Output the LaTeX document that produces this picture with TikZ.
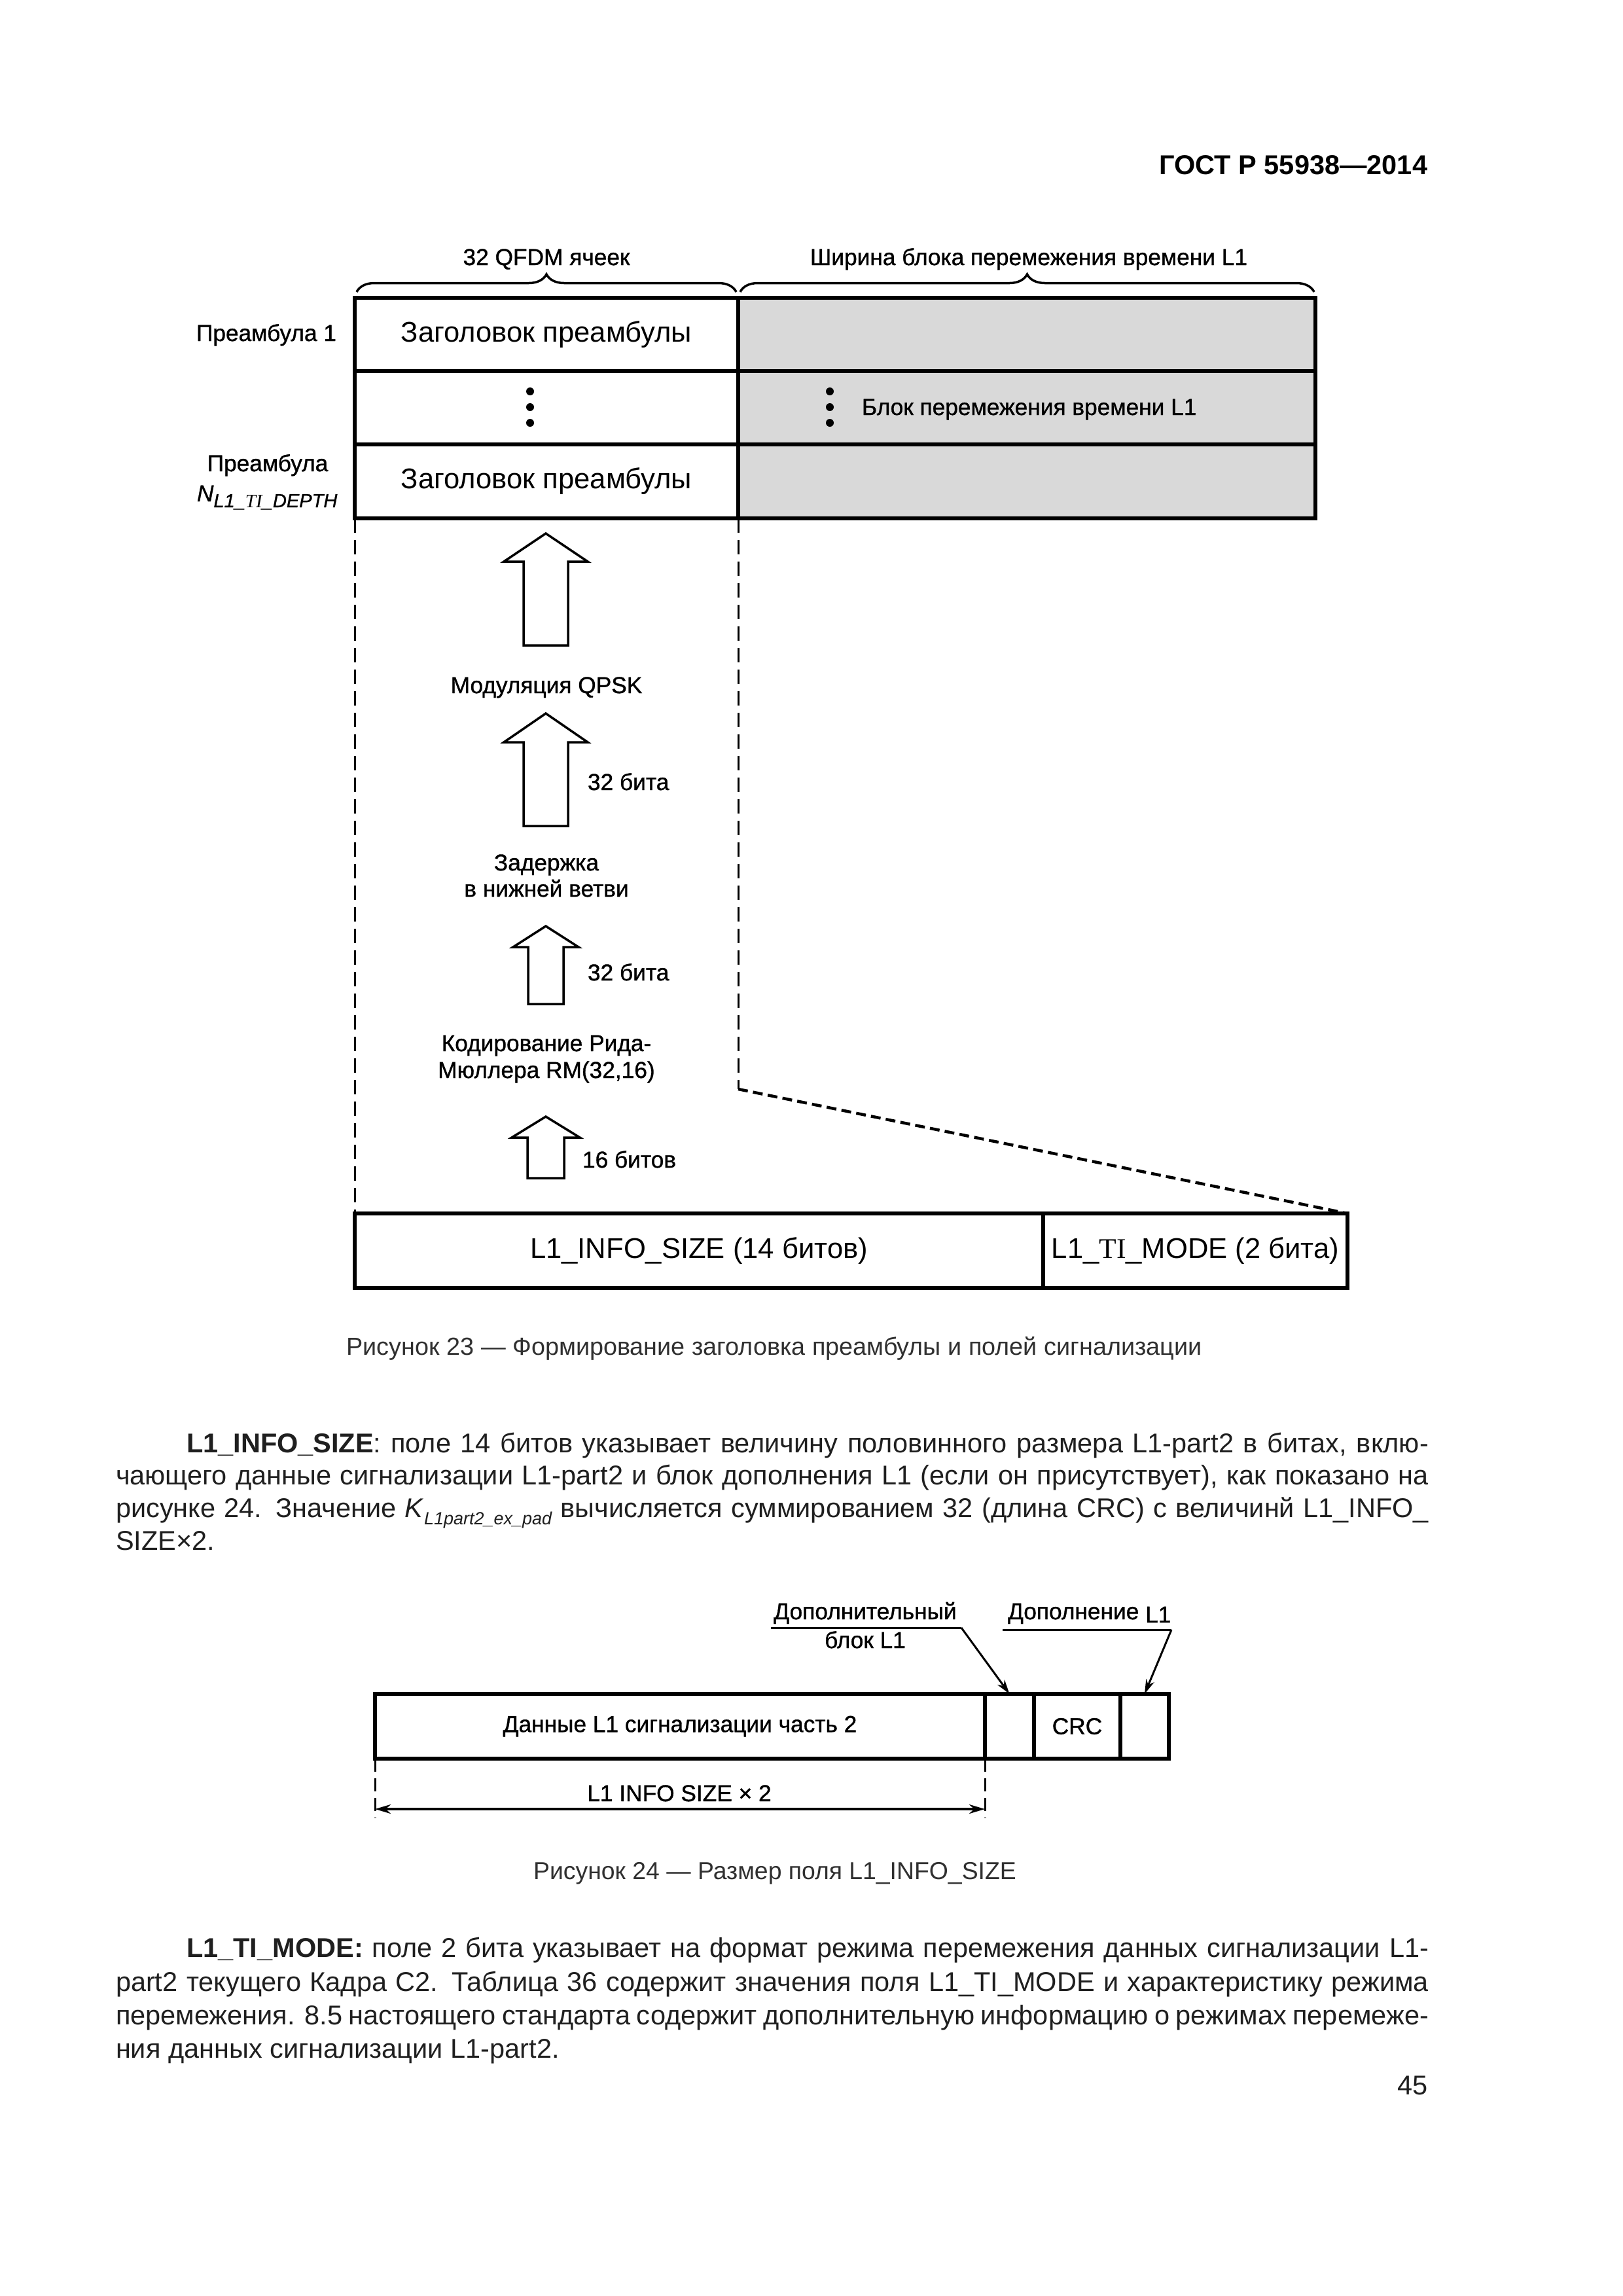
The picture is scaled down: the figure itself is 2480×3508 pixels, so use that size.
\documentclass[tikz,border=0pt]{standalone}
\usepackage{fontspec}
\setmainfont{Liberation Sans}
\newfontfamily\serif{Liberation Serif}
\newfontfamily\semib{Liberation Sans}[FakeBold=1]
\usetikzlibrary{decorations.pathreplacing,arrows.meta}
\newdimen\px \px=0.24093pt
\definecolor{cellgray}{HTML}{D9D9D9}
\definecolor{capgray}{HTML}{303030}
\newcommand\blkarrow[6]{\draw[blk] (#1,#2) -- (#1+#5,#3) -- (#1+#6,#3) -- (#1+#6,#4) -- (#1-#6,#4) -- (#1-#6,#3) -- (#1-#5,#3) -- cycle;}
\begin{document}
\begin{tikzpicture}[x=\px,y=-\px,
  lab/.style={font=\semib\fontsize{8.5}{10}\selectfont, inner sep=0, outer sep=0},
  big/.style={font=\fontsize{10.5}{12}\selectfont},
  cell/.style={draw, line width=5.5\px, inner sep=0, outer sep=0, anchor=north west, minimum height=#1\px},
  gcell/.style={cell=#1, fill=cellgray},
  body/.style={font=\fontsize{10}{12}\selectfont, text=black!88, inner sep=0, outer sep=0},
  capt/.style={font=\fontsize{9}{11}\selectfont, text=capgray, inner sep=0, outer sep=0},
  dashln/.style={line width=3\px, dash pattern=on 22\px off 11\px},
  diagdash/.style={line width=4.5\px, dash pattern=on 15\px off 8\px},
  brc/.style={line width=3.5\px, decorate, decoration={brace, amplitude=27\px}},
  blk/.style={line width=3.5\px, fill=white, line join=miter},
  call/.style={line width=3\px},
  calltip/.style={-{Stealth[length=5.3pt,width=3.2pt]}},
  dimdash/.style={line width=3\px, dash pattern=on 20\px off 10\px},
  dimarr/.style={line width=4\px, {Stealth[length=5.8pt,width=3.4pt]}-{Stealth[length=5.8pt,width=3.4pt]}}
]
\fill[white] (0,0) rectangle (2480,3508);
\useasboundingbox (0,0) rectangle (2480,3508);

% header
\node[anchor=base east, font=\bfseries\fontsize{10}{12}\selectfont, inner sep=0] (hdr) at (2182,266) {ГОСТ Р 55938—2014};

% ===== Figure 23 =====
\node[lab, anchor=base] (bl1) at (835,405) {32 QFDM ячеек};
\node[lab, anchor=base] (bl2) at (1572,405) {Ширина блока перемежения времени L1};
\coordinate (br1a) at (545,446); \coordinate (br1b) at (1125,446);
\coordinate (br2a) at (1131,446); \coordinate (br2b) at (2008,446);
\draw[brc] (br1a) -- (br1b);
\draw[brc] (br2a) -- (br2b);

\node[gcell=112, minimum width=882\px] (g1) at (1128,455) {};
\node[gcell=112, minimum width=882\px] (g2) at (1128,567) {};
\node[gcell=113, minimum width=882\px] (g3) at (1128,679) {};
\node[cell=112, minimum width=586\px, big] (h1) at (542,455) {Заголовок преамбулы};
\node[cell=112, minimum width=586\px] (h2) at (542,567) {};
\node[cell=113, minimum width=586\px, big] (h3) at (542,679) {Заголовок преамбулы};

\foreach \yy in {598,622,646}{
  \fill (810,\yy) circle[radius=6\px];
  \fill (1268,\yy) circle[radius=6\px];
}
\node[lab, anchor=base west] (tib) at (1317,634) {Блок перемежения времени L1};

\node[lab, anchor=base east] (pr1) at (514,521) {Преамбула 1};
\node[lab, anchor=base] (prN) at (409,720) {Преамбула};
\node[lab, anchor=base west] (prNs) at (301,766) {\itshape N\raisebox{-9\px}{\fontsize{7}{8}\selectfont L1\_{\serif\itshape TI}\_DEPTH}};

% bottom table
\node[cell=114, minimum width=1052\px, big] (bI) at (542,1854) {L1\_INFO\_SIZE (14 битов)};
\node[cell=114, minimum width=465\px, big] (bM) at (1594,1854) {L1\_{\serif TI}\_MODE (2 бита)};

% dashed connectors
\coordinate (midc) at (1128,1664);
\draw[dashln] (h3.south west) -- (bI.north west);
\draw[dashln] (h3.south east) -- (midc);
\draw[diagdash] (midc) -- (bM.north east);

% block arrows
\blkarrow{834}{815}{858}{986}{64}{34}
\blkarrow{834}{1090}{1134}{1262}{64}{34}
\blkarrow{834}{1415}{1447}{1534}{50}{27}
\blkarrow{834}{1706}{1738}{1800}{52}{28}

\node[lab, anchor=base] (tq) at (835,1059) {Модуляция QPSK};
\node[lab, anchor=base west] (t32a) at (898,1207) {32 бита};
\node[lab, anchor=base] (tz1) at (835,1330) {Задержка};
\node[lab, anchor=base] (tz2) at (835,1370) {в нижней ветви};
\node[lab, anchor=base west] (t32b) at (898,1498) {32 бита};
\node[lab, anchor=base] (tk1) at (835,1606) {Кодирование Рида-};
\node[lab, anchor=base] (tk2) at (835,1647) {Мюллера RM(32,16)};
\node[lab, anchor=base west] (t16) at (890,1784) {16 битов};

\node[capt, anchor=base] (cap23) at (1183,2070) {\fontsize{9.1}{11}\selectfont Рисунок 23 — Формирование заголовка преамбулы и полей сигнализации};

% ===== paragraph 1 =====
\node[body, anchor=base west] (p1a) at (285,2219) {\makebox[1898\px][s]{\textbf{L1\_INFO\_SIZE}: поле 14 битов указывает величину половинного размера L1-part2 в битах, вклю-}};
\node[body, anchor=base west] (p1b) at (177,2268) {\makebox[2006\px][s]{чающего данные сигнализации L1-part2 и блок дополнения L1 (если он присутствует), как показано на}};
\node[body, anchor=base west] (p1c) at (177,2318) {\makebox[2006\px][s]{рисунке 24. Значение \textit{K}\raisebox{-11\px}{\fontsize{6.5}{8}\selectfont\itshape L1part2\_ex\_pad} вычисляется суммированием 32 (длина CRC) с величинй L1\_INFO\_}};
\node[body, anchor=base west] (p1d) at (177,2368) {SIZE×2.};

% ===== Figure 24 =====
\node[cell=99, minimum width=932\px, lab] (dD) at (573,2588) {Данные L1 сигнализации часть 2};
\node[cell=99, minimum width=75\px] (dE) at (1505,2588) {};
\node[cell=99, minimum width=132\px, lab] (dC) at (1580,2588) {CRC};
\node[cell=99, minimum width=74\px] (dP) at (1712,2588) {};

\node[lab, anchor=base] (c1a) at (1322,2474) {Дополнительный};
\node[lab, anchor=base] (c1b) at (1322,2518) {блок L1};
\node[lab, anchor=base west] (c2) at (1540,2474) {Дополнение \raisebox{-5\px}{L1}};
\coordinate (u1a) at (1178,2487); \coordinate (u1b) at (1469,2487);
\coordinate (u2a) at (1532,2490); \coordinate (u2b) at (1790,2490);
\draw[call] (u1a) -- (u1b);
\draw[call, calltip] (u1b) -- (dE.north);
\draw[call] (u2a) -- (u2b);
\draw[call, calltip] (u2b) -- (dP.north);

\coordinate (dl) at (573,2778); \coordinate (dr) at (1505,2778);
\coordinate (al) at (573,2764); \coordinate (ar) at (1505,2764);
\draw[dimdash] (dD.south west) -- (dl);
\draw[dimdash] (dD.south east) -- (dr);
\draw[dimarr] (al) -- (ar);
\node[lab, anchor=base] (dimt) at (1038,2752) {L1 INFO SIZE × 2};

\node[capt, anchor=base] (cap24) at (1184,2871) {Рисунок 24 — Размер поля L1\_INFO\_SIZE};

% ===== paragraph 2 =====
\node[body, anchor=base west] (p2a) at (285,2990) {\makebox[1898\px][s]{\textbf{L1\_TI\_MODE:} поле 2 бита указывает на формат режима перемежения данных сигнализации L1-}};
\node[body, anchor=base west] (p2b) at (177,3042) {\makebox[2006\px][s]{part2 текущего Кадра C2. Таблица 36 содержит значения поля L1\_TI\_MODE и характеристику режима}};
\node[body, anchor=base west] (p2c) at (177,3093) {\makebox[2006\px][s]{перемежения. 8.5 настоящего стандарта содержит дополнительную информацию о режимах перемеже-}};
\node[body, anchor=base west] (p2d) at (177,3144) {ния данных сигнализации L1-part2.};

\node[body, anchor=base east] (pg) at (2182,3200) {45};
\end{tikzpicture}
\end{document}
